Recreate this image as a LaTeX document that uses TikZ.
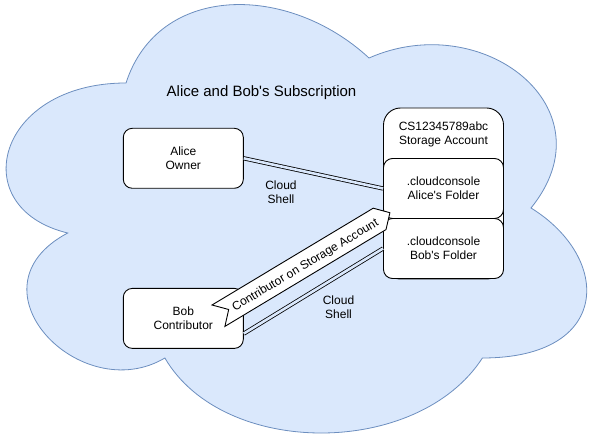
\documentclass[tikz,border=0pt]{standalone}
\usepackage{fontspec}
\setmainfont{Liberation Sans}
\usetikzlibrary{calc}
\definecolor{cloudfill}{HTML}{DAE8FC}
\definecolor{cloudline}{HTML}{6C8EBF}
\newcommand{\apsq}{\textquotesingle}
\begin{document}
\begin{tikzpicture}[x=1pt,y=-1pt,
  box/.style={draw=black, fill=white, rounded corners=9pt, line width=0.9pt,
    minimum width=120pt, minimum height=60pt, align=center, inner sep=0pt,
    font=\fontsize{12}{14.4}\selectfont},
  lbl/.style={align=center, font=\fontsize{12}{14.4}\selectfont, inner sep=0pt},
  link/.style={draw=black, line width=0.8pt, double=cloudfill, double distance=2.6pt},
  calloutshape/.style={draw=black, fill=white, line width=0.9pt, line join=miter}
]
\useasboundingbox (0,0) rectangle (591,438);
% cloud
\draw[fill=cloudfill, draw=cloudline, line width=0.8pt]
  (126,83) .. controls (-3.6,83) and (-36,208) .. (67.68,233)
  .. controls (-36,288) and (80.64,408) .. (164.88,358)
  .. controls (223.2,458) and (417.6,458) .. (482.4,358)
  .. controls (612,358) and (612,258) .. (531,208)
  .. controls (612,108) and (482.4,8) .. (369,58)
  .. controls (288,-17) and (158.4,-17) .. cycle;
\node[lbl, font=\fontsize{15}{17}\selectfont] (title) at (261.5,92.3) {Alice and Bob\apsq s Subscription};
% nodes
\node[box] (alice) at (183.3,158.3) {Alice\\Owner};
\node[box] (bob) at (183.3,318.4) {Bob\\Contributor};
\node[box, rounded corners=17pt, minimum height=171pt] (sa) at (443.5,193.5) {};
\node[lbl] (sahead) at (443.5,134.2) {CS12345789abc\\Storage Account};
\node[box] (afolder) at (443.5,188.5) {.cloudconsole\\Alice\apsq s Folder};
\node[box] (bfolder) at (443.5,248.5) {.cloudconsole\\Bob\apsq s Folder};
% connectors
\draw[link] (alice.east) -- (afolder.west);
\coordinate (bobout) at ($(bob.south east)!0.25!(bob.north east)$);
\draw[link] (bobout) -- (bfolder.west);
\node[lbl] (cs1) at (281,192) {Cloud\\Shell};
\node[lbl] (cs2) at (338.5,307.2) {Cloud\\Shell};
% callout
\draw[calloutshape] (212,305) -- (373.2,208.2) -- (389.9,212.7) -- (386.0,229.6)
  -- (224.9,326.4) -- (228.7,309.5) -- cycle;
\node[lbl, rotate=31] (callout) at (305.5,265.5) {Contributor on Storage Account};
\end{tikzpicture}
\end{document}
